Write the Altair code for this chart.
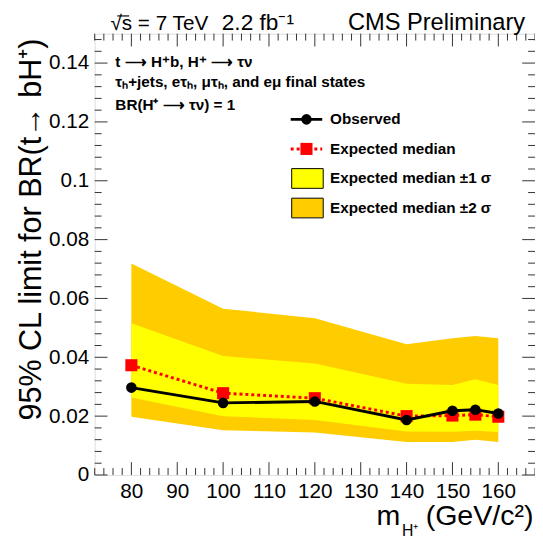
import altair as alt
import pandas as pd

# ---- data ----
mass = [80, 100, 120, 140, 150, 155, 160]
observed = [0.0297, 0.0245, 0.0250, 0.0187, 0.0218, 0.0222, 0.0209]
expected = [0.0373, 0.0278, 0.0261, 0.0200, 0.0202, 0.0205, 0.0198]
plus2 = [0.0719, 0.0565, 0.0533, 0.0444, 0.0465, 0.0472, 0.0465]
plus1 = [0.0516, 0.0404, 0.0379, 0.0310, 0.0306, 0.0325, 0.0306]
minus1 = [0.0263, 0.0200, 0.0187, 0.0148, 0.0147, 0.0150, 0.0146]
minus2 = [0.0198, 0.0152, 0.0144, 0.0112, 0.0112, 0.0120, 0.0112]

x_major = [80, 90, 100, 110, 120, 130, 140, 150, 160]
x_minor = [72 + 2 * i for i in range(49)]
y_major = [0, 0.02, 0.04, 0.06, 0.08, 0.10, 0.12, 0.14]
y_minor = [round(0.004 * i, 3) for i in range(38)]

df = pd.DataFrame({"mass": mass, "observed": observed, "expected": expected,
                   "plus2": plus2, "plus1": plus1, "minus1": minus1, "minus2": minus2})

W, H = 447, 448
FONT = "Liberation Sans"
FRAME = "#333333"

xs = alt.Scale(domain=[72, 168], nice=False, zero=False)
ys = alt.Scale(domain=[0, 0.15], nice=False, zero=False)
xaxis = alt.Axis(values=x_major, ticks=False, domain=False, grid=False, title=None,
                 labelFontSize=21, labelFont=FONT, labelColor="black", labelPadding=6,
                 labelFlush=False, labelOverlap=False)
yaxis = alt.Axis(values=y_major, format="~g", ticks=False, domain=False, grid=False, title=None,
                 labelFontSize=21, labelFont=FONT, labelColor="black", labelPadding=6,
                 labelOverlap=False)


def X(f):
    return alt.X(f, scale=xs, axis=xaxis)


def Y(f):
    return alt.Y(f, scale=ys, axis=yaxis)


base = alt.Chart(df)
band2 = base.mark_area(color="#FFCC00", opacity=1).encode(x=X("mass:Q"), y=Y("plus2:Q"), y2="minus2:Q")
band1 = base.mark_area(color="#FFFF00", opacity=1).encode(x=X("mass:Q"), y=Y("plus1:Q"), y2="minus1:Q")
exp_line = base.mark_line(color="#FF0000", strokeWidth=3, strokeDash=[3, 3]).encode(x=X("mass:Q"), y=Y("expected:Q"))
exp_pts = base.mark_square(color="#FF0000", size=150, opacity=1).encode(x=X("mass:Q"), y=Y("expected:Q"))
obs_line = base.mark_line(color="black", strokeWidth=3).encode(x=X("mass:Q"), y=Y("observed:Q"))
obs_pts = base.mark_circle(color="black", size=115, opacity=1).encode(x=X("mass:Q"), y=Y("observed:Q"))

# ---- inward ROOT-style ticks on all four sides ----
xmaj = pd.DataFrame({"v": x_major})
xmin = pd.DataFrame({"v": [v for v in x_minor if v not in x_major]})
ymaj = pd.DataFrame({"v": y_major})
ymin = pd.DataFrame({"v": [v for v in y_minor if round(v / 0.02, 6) != int(round(v / 0.02))]})

tick_layers = []
for d, ln in [(xmaj, 13), (xmin, 7)]:
    tick_layers.append(alt.Chart(d).mark_rule(color=FRAME, strokeWidth=1).encode(
        x=X("v:Q"), y=alt.value(H), y2=alt.value(H - ln)))
    tick_layers.append(alt.Chart(d).mark_rule(color=FRAME, strokeWidth=1).encode(
        x=X("v:Q"), y=alt.value(0), y2=alt.value(ln)))
for d, ln in [(ymaj, 13), (ymin, 7)]:
    tick_layers.append(alt.Chart(d).mark_rule(color=FRAME, strokeWidth=1).encode(
        y=Y("v:Q"), x=alt.value(0), x2=alt.value(ln)))
    tick_layers.append(alt.Chart(d).mark_rule(color=FRAME, strokeWidth=1).encode(
        y=Y("v:Q"), x=alt.value(W), x2=alt.value(W - ln)))

one = pd.DataFrame({"a": [0]})


def txt(s, x, y, size, bold=False, align="left", baseline="middle", angle=0, font=FONT):
    kw = dict(align=align, baseline=baseline, fontSize=size, font=font, color="black",
              fontWeight="bold" if bold else "normal")
    if angle:
        kw["angle"] = angle
    return alt.Chart(one).mark_text(**kw).encode(x=alt.value(x), y=alt.value(y), text=alt.value(s))


LS = 15.5  # legend / label text size
texts = [
    txt("√s = 7 TeV", 16, -4, 21, baseline="alphabetic"),
    txt("2.2 fb⁻¹", 129, -4, 23, baseline="alphabetic"),
    txt("CMS Preliminary", 437, -4, 24, align="right", baseline="alphabetic"),
    txt("t ⟶ H⁺b, H⁺ ⟶ τν", 21, 29, LS, bold=True),
    txt("τₕ+jets, eτₕ, μτₕ, and eμ final states", 21, 49, LS, bold=True),
    txt("BR(H⁺ ⟶ τν) = 1", 21, 72, LS, bold=True),
    txt("Observed", 239, 87, LS, bold=True),
    txt("Expected median", 239, 117, LS, bold=True),
    txt("Expected median ±1 σ", 239, 147, LS, bold=True),
    txt("Expected median ±2 σ", 239, 177, LS, bold=True),
    txt("95% CL limit for BR(t→ bH⁺)", -63, 5, 31, align="right", angle=270),
    txt("m", 286, 499, 29, baseline="alphabetic"),
    txt("H⁺", 312, 510, 16, baseline="alphabetic"),
    txt("(GeV/c²)", 336, 499, 29, baseline="alphabetic"),
]

sqrt_bar = alt.Chart(one).mark_rule(color="black", strokeWidth=1.2).encode(
    x=alt.value(23), x2=alt.value(35), y=alt.value(-18))

leg = [
    alt.Chart(one).mark_rule(color="black", strokeWidth=3).encode(
        x=alt.value(199), x2=alt.value(231), y=alt.value(87)),
    alt.Chart(one).mark_circle(color="black", size=115, opacity=1).encode(
        x=alt.value(215), y=alt.value(87)),
    alt.Chart(one).mark_rule(color="#FF0000", strokeWidth=3, strokeDash=[3, 3]).encode(
        x=alt.value(199), x2=alt.value(231), y=alt.value(117)),
    alt.Chart(one).mark_square(color="#FF0000", size=150, opacity=1).encode(
        x=alt.value(215), y=alt.value(117)),
    alt.Chart(one).mark_rect(fill="#FFFF00", stroke="black", strokeWidth=1).encode(
        x=alt.value(200), x2=alt.value(232), y=alt.value(137), y2=alt.value(157)),
    alt.Chart(one).mark_rect(fill="#FFCC00", stroke="black", strokeWidth=1).encode(
        x=alt.value(200), x2=alt.value(232), y=alt.value(167), y2=alt.value(187)),
]

chart = alt.layer(
    band2, band1, exp_line, exp_pts, obs_line, obs_pts, *tick_layers, *leg, *texts, sqrt_bar
).properties(
    width=W, height=H,
    autosize=alt.AutoSizeParams(type="none"),
    padding={"left": 88, "top": 22, "right": 0, "bottom": 65},
).configure_view(stroke=FRAME, strokeWidth=1).configure(background="white")

chart.save("out.html", embed_options={"renderer": "svg", "actions": False})
